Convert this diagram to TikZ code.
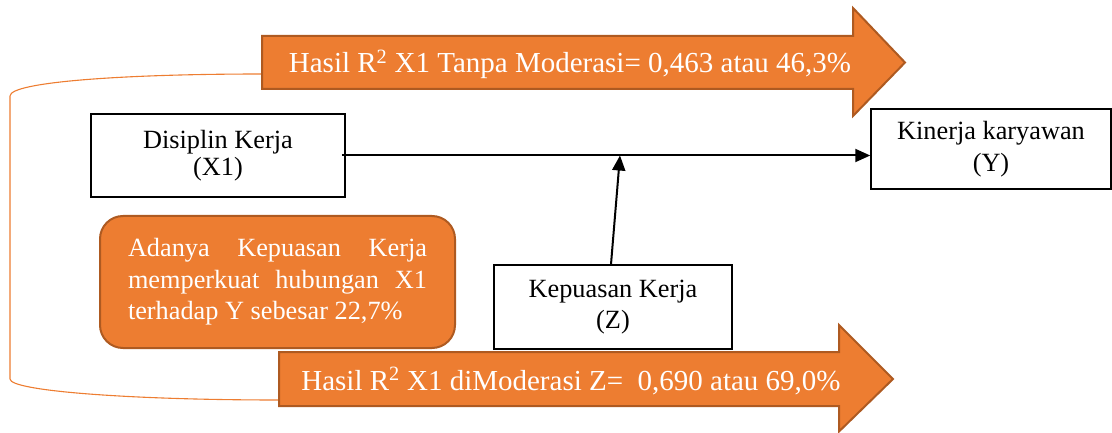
\documentclass[tikz,border=0pt]{standalone}
\usepackage{fontspec}
\setmainfont{Liberation Serif}
\usetikzlibrary{arrows.meta}
\definecolor{org}{HTML}{ED7D31}
\definecolor{orgdark}{HTML}{AE5A21}
\begin{document}
\begin{tikzpicture}[x=1pt,y=-1pt,
  box/.style={draw=black, line width=1.5pt, fill=white, align=center, inner sep=0pt,
    font=\fontsize{26.3}{31.5}\selectfont},
  conn/.style={draw=black, line width=2pt, -{Triangle[length=15pt,width=13pt]}},
  bigarrow/.style={fill=org, draw=orgdark, line width=2pt, line join=miter},
  arrowtext/.style={text=white, font=\fontsize{29}{34}\selectfont, inner sep=0pt},
  notebox/.style={fill=org, draw=orgdark, line width=2pt, rounded corners=23pt,
    text=white, text width=299pt, align=justify, inner sep=0pt,
    font=\fontsize{26.3}{31.5}\selectfont},
  bracket/.style={draw=org, line width=1.1pt}
]
\useasboundingbox (0,0) rectangle (1112,433);

% left bracket connector
\coordinate (tl) at (262,74);
\coordinate (bl) at (279,400);
\draw[bracket] (tl) .. controls (123,74) and (10,82) .. (10,96) -- (10,379)
  .. controls (10,391) and (131,400) .. (bl);

% top big arrow
\draw[bigarrow] (262,36) -- (853,36) -- (853,8) -- (905,62.5) -- (853,116)
  -- (853,89) -- (262,89) -- cycle;
\node[arrowtext] (toptext) at (570,64) {Hasil R\textsuperscript{2} X1 Tanpa Moderasi= 0,463 atau 46,3\%};

% bottom big arrow
\draw[bigarrow] (279,352) -- (839,352) -- (839,325) -- (893,379) -- (839,431.5)
  -- (839,406) -- (279,406) -- cycle;
\node[arrowtext] (bottext) at (571,381) {Hasil R\textsuperscript{2} X1 diModerasi Z=\ \ 0,690 atau 69,0\%};

% note box
\node[notebox, minimum width=355pt, minimum height=132pt] (note) at (277.5,282)
  {\tolerance=10000 \hyphenpenalty=10000 Adanya Kepuasan Kerja memperkuat hubungan X1 terhadap Y sebesar 22,7\%};

% variable boxes
\node[box, minimum width=254pt, minimum height=83pt] (x1) at (218,155.5) {Disiplin Kerja\\[-4pt](X1)};
\node[box, minimum width=240pt, minimum height=80pt] (y) at (991,149) {Kinerja karyawan\\(Y)};
\node[box, minimum width=238pt, minimum height=84pt] (z) at (613,307) {Kepuasan Kerja\\(Z)};

% connectors
\coordinate (m) at (620,155.5);
\draw[conn] ([xshift=-4pt]x1.east) -- (x1.east -| y.west);
\draw[conn] ([xshift=-2pt]z.north) -- (m);
\end{tikzpicture}
\end{document}
